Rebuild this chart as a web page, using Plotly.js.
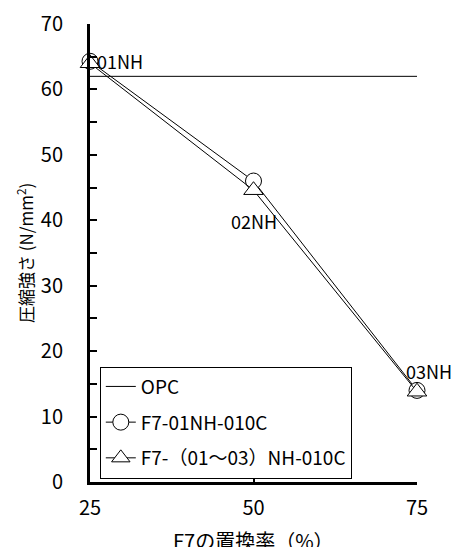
<!DOCTYPE html>
<html>
<head>
<meta charset="utf-8">
<script src="https://cdn.plot.ly/plotly-3.0.1.min.js"></script>
<style>html,body{margin:0;padding:0;background:#fff;}#chart{width:452px;height:547px;}</style>
</head>
<body>
<div id="chart"></div>
<script>
const replacementRates = [25, 50, 75];
const opcStrength = [62, 62, 62];
const series01NH = [64.3, 46, 14];
const series0103NH = [64, 44.6, 13.8];
const pointLabels = ["01NH", "02NH", "03NH"];
const seriesNames = ["OPC", "F7-01NH-010C", "F7-（01～03）NH-010C"];
const xTitle = 'F7の置換率（%）';
const yTitle = '圧縮強さ (N/mm<sup>2</sup>)';

const FONT = "'Noto Sans CJK JP', sans-serif";

const traces = [
  {x: replacementRates, y: opcStrength, name: seriesNames[0], mode: 'lines',
   line: {color: '#000', width: 1}, legendgroup: 'a', cliponaxis: false},
  {x: replacementRates, y: series01NH, name: seriesNames[1], mode: 'lines+markers',
   line: {color: '#000', width: 1},
   marker: {symbol: 'circle', size: 16, color: '#fff', line: {color: '#000', width: 1}},
   legendgroup: 'b', cliponaxis: false},
  {x: replacementRates, y: series0103NH, name: seriesNames[2], mode: 'lines+markers',
   line: {color: '#000', width: 1},
   marker: {symbol: 'triangle-up', size: 17, color: '#fff', line: {color: '#000', width: 1}},
   legendgroup: 'c', cliponaxis: false}
];

const shifts = [[5, 0], [0, -40], [12, 19]];
const annotations = pointLabels.map((t, i) => ({
  x: replacementRates[i], y: series01NH[i], xref: 'x', yref: 'y',
  text: t, showarrow: false, xanchor: i === 0 ? 'left' : 'center',
  xshift: shifts[i][0], yshift: shifts[i][1],
  font: {family: FONT, size: 18, color: '#000'}
}));
annotations.push({
  x: 0.5, y: 0, xref: 'paper', yref: 'paper', text: xTitle, showarrow: false,
  xanchor: 'center', yanchor: 'middle', yshift: -58,
  font: {family: FONT, size: 20, color: '#000'}
});
annotations.push({
  x: 0, y: 0.5, xref: 'paper', yref: 'paper', text: yTitle, showarrow: false,
  textangle: -90, xanchor: 'center', yanchor: 'middle', xshift: -65,
  font: {family: FONT, size: 17, color: '#000'}
});

const layout = {
  width: 452, height: 547,
  margin: {l: 90, r: 35, t: 24, b: 65},
  paper_bgcolor: '#fff', plot_bgcolor: '#fff',
  showlegend: true,
  legend: {
    x: 0.03, y: 0.252, xanchor: 'left', yanchor: 'top',
    bordercolor: '#000', borderwidth: 1, bgcolor: '#fff',
    font: {family: FONT, size: 19, color: '#000'},
    traceorder: 'grouped', tracegroupgap: 8, itemwidth: 30
  },
  xaxis: {
    range: [25, 75], tickvals: replacementRates, ticktext: replacementRates.map(String),
    showgrid: false, zeroline: false, showline: true, linecolor: '#000', linewidth: 3,
    ticks: 'inside', ticklen: 7, tickwidth: 2, tickcolor: '#000',
    ticklabelstandoff: 6,
    tickfont: {family: FONT, size: 20, color: '#000'}
  },
  yaxis: {
    range: [0, 70], dtick: 10,
    showgrid: false, zeroline: false, showline: true, linecolor: '#000', linewidth: 3,
    ticks: 'inside', ticklen: 7, tickwidth: 2, tickcolor: '#000',
    ticklabelstandoff: 20,
    minor: {dtick: 5, ticks: 'inside', ticklen: 7, tickwidth: 2, tickcolor: '#000'},
    tickfont: {family: FONT, size: 20, color: '#000'}
  },
  annotations: annotations
};

Plotly.newPlot('chart', traces, layout, {displayModeBar: false, staticPlot: true});
</script>
</body>
</html>
